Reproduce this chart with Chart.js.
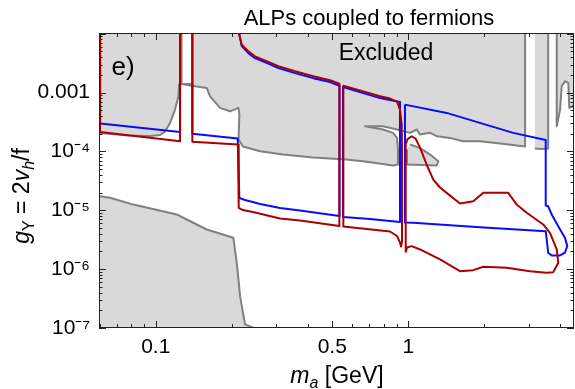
<!DOCTYPE html>
<html>
<head>
<meta charset="utf-8">
<script src="https://cdn.jsdelivr.net/npm/chart.js@4.4.1/dist/chart.umd.min.js"></script>
<style>
  html, body { margin: 0; padding: 0; background: #fff; }
</style>
</head>
<body>
<canvas id="chart" width="575" height="389"></canvas>
<script>
// axis ranges: m_a in GeV, coupling g_Y
const xRange = [0.0596, 4.53];
const yRange = [1e-7, 0.0103];

const xTickValues = [0.06, 0.07, 0.08, 0.09, 0.1, 0.2, 0.3, 0.4, 0.5, 0.6, 0.7, 0.8, 0.9, 1, 2, 3, 4];
const xTickLabels = ['0.1', '0.5', '1'];
const xTickLabelled = [0.1, 0.5, 1];
const yTickLabelled = [1e-7, 1e-6, 1e-5, 1e-4, 1e-3];
const yTickLabels = ['10⁻⁷', '10⁻⁶', '10⁻⁵', '10⁻⁴', '0.001'];

// excluded regions (gray), [m_a, g]
const excludedTopLeft = [
    [0.05, 0.05], [0.1265, 0.05], [0.1265, 1.42e-3], [0.1237, 1.37e-3], [0.1229, 8.55e-4],
    [0.1192, 5.14e-4], [0.1139, 3.03e-4], [0.1088, 2.18e-4], [0.104, 1.90e-4], [0.0949, 1.83e-4],
    [0.0777, 1.86e-4], [0.0602, 2.05e-4], [0.05, 2.05e-4]
];
const excludedTop = [
    [0.1386, 0.05], [2.90, 0.05], [2.90, 1.21e-4], [2.31, 1.36e-4], [1.92, 1.49e-4], [1.65, 1.49e-4],
    [1.46, 1.70e-4], [1.30, 1.81e-4], [1.22, 2.07e-4], [1.11, 1.94e-4], [1.08, 2.36e-4], [1.016, 2.07e-4],
    [0.902, 2.36e-4], [0.794, 2.68e-4], [0.674, 2.68e-4], [0.794, 2.36e-4], [0.870, 2.07e-4],
    [0.902, 1.70e-4], [0.910, 1.08e-4], [0.910, 6.0e-5], [0.870, 5.77e-5], [0.662, 6.83e-5],
    [0.567, 7.28e-5], [0.420, 7.87e-5], [0.319, 8.85e-5], [0.259, 1.01e-4], [0.2216, 1.21e-4],
    [0.2127, 1.59e-4], [0.2143, 4.23e-4], [0.2125, 5.5e-4], [0.1968, 4.81e-4], [0.1797, 5.5e-4],
    [0.1641, 8.65e-4], [0.1592, 1.2e-3], [0.1431, 1.28e-3], [0.1265, 1.40e-3], [0.1386, 1.40e-3]
];
const excludedBlob = [
    [1.016, 1.31e-4], [1.11, 1.15e-4], [1.22, 8.86e-5], [1.315, 6.82e-5], [1.296, 5.77e-5],
    [0.9855, 6.0e-5], [0.988, 1.08e-4]
];
const excludedStrip = [
    [3.17, 0.05], [3.58, 0.05], [3.58, 1.12e-4], [3.37, 1.10e-4], [3.17, 1.12e-4]
];
const excludedRight = [
    [3.87, 0.05], [3.87, 2.68e-4], [3.99, 5.14e-4], [4.05, 1.28e-3], [4.17, 1.56e-3], [4.30, 1.46e-3],
    [4.34, 5.5e-4], [4.48, 5.85e-4], [4.57, 7.1e-4], [5, 8e-4], [5, 0.05]
];
const excludedLow = [
    [0.05, 1.73e-5], [0.0602, 1.73e-5], [0.0659, 1.63e-5], [0.0815, 1.25e-5], [0.0994, 1.03e-5],
    [0.1211, 8.5e-6], [0.1327, 6.98e-6], [0.1592, 4.72e-6], [0.2029, 3.41e-6], [0.2093, 1.28e-6],
    [0.2157, 3.48e-7], [0.2257, 1.15e-7], [0.2434, 1.01e-7], [0.26, 9e-8], [0.26, 5e-8], [0.05, 5e-8]
];

// blue contour
const blueA = [[0.0602, 0.05], [0.0602, 2.98e-4], [0.1248, 2.15e-4], [0.1248, 0.05]];
const blueB = [
    [0.1396, 0.05], [0.1396, 1.99e-4], [0.2111, 1.66e-4], [0.2143, 1.62e-5], [0.2257, 1.50e-5],
    [0.259, 1.28e-5], [0.3105, 1.09e-5], [0.3726, 9.93e-6], [0.534, 8.0e-6], [0.534, 1.31e-3],
    [0.490, 1.51e-3], [0.4205, 1.76e-3], [0.356, 2.14e-3], [0.3058, 2.61e-3], [0.2791, 3.10e-3],
    [0.2472, 3.85e-3], [0.2326, 4.69e-3], [0.219, 6.16e-3], [0.2147, 9.29e-3], [0.2135, 0.0127],
    [0.2135, 0.05]
];
const blueC = [
    [0.5514, 1.24e-3], [0.5514, 7.69e-6], [0.7053, 7.11e-6], [0.927, 6.33e-6], [0.927, 6.90e-4],
    [0.8465, 7.46e-4], [0.7727, 8.07e-4], [0.6634, 9.80e-4], [0.5514, 1.24e-3]
];
const blueD = [
    [0.970, 6.25e-4], [1.419, 4.52e-4], [1.92, 3.06e-4], [2.604, 2.07e-4], [3.50, 1.56e-4],
    [3.50, 1.21e-5], [3.58, 1.17e-5], [3.696, 8.5e-6], [3.99, 4.72e-6], [4.17, 3.41e-6],
    [4.26, 2.46e-6], [4.17, 1.90e-6], [3.99, 1.71e-6], [3.696, 1.71e-6], [3.58, 1.90e-6],
    [3.531, 3.19e-6], [3.50, 4.42e-6], [1.92, 5.16e-6], [1.046, 6.14e-6], [0.970, 6.21e-6],
    [0.970, 6.25e-4]
];

// red contour
const redA = [[0.0602, 0.05], [0.0602, 2.15e-4], [0.1248, 1.49e-4], [0.1248, 0.05]];
const redB = [
    [0.1396, 0.05], [0.1396, 1.46e-4], [0.2118, 1.31e-4], [0.2125, 1.12e-5], [0.2135, 1.10e-5],
    [0.2216, 1.01e-5], [0.2472, 9.18e-6], [0.3105, 7.26e-6], [0.3726, 6.71e-6], [0.5334, 5.41e-6],
    [0.5334, 1.42e-3], [0.490, 1.62e-3], [0.4205, 1.89e-3], [0.356, 2.30e-3], [0.3058, 2.80e-3],
    [0.2791, 3.32e-3], [0.2472, 4.13e-3], [0.2326, 5.03e-3], [0.219, 6.53e-3], [0.2147, 9.29e-3],
    [0.2135, 0.0127], [0.2135, 0.05]
];
const redC = [
    [0.553, 1.31e-3], [0.553, 5.31e-6], [0.8465, 4.36e-6], [0.902, 3.66e-6], [0.927, 2.84e-6],
    [0.9357, 2.43e-6], [0.9443, 2.95e-6], [0.9443, 1.08e-4], [0.9417, 2.87e-4], [0.927, 5.14e-4],
    [0.902, 7.03e-4], [0.8465, 7.91e-4], [0.7727, 8.65e-4], [0.6634, 1.05e-3], [0.553, 1.31e-3]
];
const redD = [
    [0.9766, 1.92e-6], [0.9766, 1.31e-4], [0.993, 1.62e-4], [1.031, 1.81e-4], [1.068, 1.66e-4],
    [1.113, 1.16e-4], [1.186, 5.77e-5], [1.256, 3.33e-5], [1.335, 2.44e-5], [1.419, 1.98e-5],
    [1.602, 1.30e-5], [1.808, 1.43e-5], [1.982, 1.98e-5], [2.488, 1.98e-5], [2.686, 1.25e-5],
    [2.943, 9.08e-6], [3.422, 5.74e-6], [3.639, 4.15e-6], [3.87, 2.16e-6], [3.925, 1.28e-6],
    [3.75, 8.9e-7], [3.531, 8.7e-7], [3.033, 9.25e-7], [2.453, 1.06e-6], [1.982, 1.10e-6],
    [1.808, 9.62e-7], [1.602, 9.25e-7], [1.335, 1.46e-6], [1.113, 2.16e-6], [1.031, 2.46e-6],
    [0.988, 2.33e-6], [0.9766, 1.92e-6]
];

const LIGHT = '#d9d9d9';
const EDGE = '#808080';
const BLUE = '#0a0aff';
const RED = '#aa0000';
const FONT = '"Liberation Sans", Arial, sans-serif';

const toXY = pts => pts.map(([x, y]) => ({ x, y }));

function region(label, pts) {
    return {
        label, data: toXY(pts), showLine: true, fill: 'shape',
        backgroundColor: LIGHT, borderColor: EDGE, borderWidth: 2,
        pointRadius: 0, borderJoinStyle: 'round', order: 3
    };
}

function curve(label, pts, color, order) {
    return {
        label, data: toXY(pts), showLine: true, fill: false,
        borderColor: color, borderWidth: 2, pointRadius: 0,
        borderJoinStyle: 'round', order
    };
}

// draws a row of text runs: [text, size, italic, dy]
function drawRuns(ctx, runs, x, y) {
    let w = 0;
    runs.forEach(r => {
        ctx.font = (r[2] ? 'italic ' : '') + r[1] + 'px ' + FONT;
        w += ctx.measureText(r[0]).width;
    });
    let cx = x - w / 2;
    runs.forEach(r => {
        ctx.font = (r[2] ? 'italic ' : '') + r[1] + 'px ' + FONT;
        ctx.fillText(r[0], cx, y + (r[3] || 0));
        cx += ctx.measureText(r[0]).width;
    });
}

const framePlugin = {
    id: 'framePlugin',
    afterDatasetsDraw(chart) {
        const { ctx, chartArea: a } = chart;
        const sx = chart.scales.x, sy = chart.scales.y;
        ctx.save();
        ctx.strokeStyle = '#222';
        ctx.lineWidth = 1;
        ctx.beginPath();
        xTickValues.forEach(v => {
            const p = Math.round(sx.getPixelForValue(v)) + 0.5;
            const len = xTickLabelled.includes(v) ? 7 : 4;
            ctx.moveTo(p, a.bottom); ctx.lineTo(p, a.bottom - len);
            ctx.moveTo(p, a.top); ctx.lineTo(p, a.top + len);
        });
        for (let d = 1e-7; d < yRange[1]; d *= 10) {
            for (let k = 1; k <= 9; k++) {
                const v = d * k;
                if (v > yRange[1]) break;
                const p = Math.round(sy.getPixelForValue(v)) + 0.5;
                const len = k === 1 ? 7 : 3.5;
                ctx.moveTo(a.left, p); ctx.lineTo(a.left + len, p);
                ctx.moveTo(a.right, p); ctx.lineTo(a.right - len, p);
            }
        }
        ctx.stroke();
        ctx.strokeRect(a.left + 0.5, a.top + 0.5, a.right - a.left - 1, a.bottom - a.top - 1);
        ctx.restore();
    },
    afterDraw(chart) {
        const { ctx } = chart;
        ctx.save();
        ctx.fillStyle = '#000';
        ctx.textBaseline = 'alphabetic';
        ctx.textAlign = 'left';
        drawRuns(ctx, [['ALPs coupled to fermions', 22]], 369, 25);
        drawRuns(ctx, [['Excluded', 23]], 386, 60);
        drawRuns(ctx, [['e)', 26]], 123, 75);
        drawRuns(ctx, [['m', 23, true], ['a', 16, true, 5], [' [GeV]', 23]], 337, 383);
        ctx.translate(29, 196);
        ctx.rotate(-Math.PI / 2);
        drawRuns(ctx, [['g', 23, true], ['Y', 16, false, 5], [' = 2', 23], ['v', 23, true],
                       ['h', 16, true, 5], ['/f', 23]], 0, 0);
        ctx.restore();
    }
};

new Chart(document.getElementById('chart').getContext('2d'), {
    type: 'scatter',
    data: {
        datasets: [
            curve('red A', redA, RED, 1),
            curve('red B', redB, RED, 1),
            curve('red C', redC, RED, 1),
            curve('red D', redD, RED, 1),
            curve('blue A', blueA, BLUE, 2),
            curve('blue B', blueB, BLUE, 2),
            curve('blue C', blueC, BLUE, 2),
            curve('blue D', blueD, BLUE, 2),
            region('excluded top left', excludedTopLeft),
            region('excluded top', excludedTop),
            region('excluded blob', excludedBlob),
            region('excluded strip', excludedStrip),
            region('excluded right', excludedRight),
            region('excluded low', excludedLow)
        ]
    },
    options: {
        responsive: false,
        animation: false,
        events: [],
        devicePixelRatio: 1,
        layout: { padding: { top: 33, right: 1, left: 0, bottom: 0 } },
        plugins: { legend: { display: false }, tooltip: { enabled: false } },
        scales: {
            x: {
                type: 'logarithmic',
                min: xRange[0], max: xRange[1],
                afterFit: s => { s.height = 61; },
                afterBuildTicks: s => { s.ticks = xTickValues.map(v => ({ value: v })); },
                grid: { display: false, drawTicks: false },
                border: { display: false },
                ticks: {
                    autoSkip: false, maxRotation: 0, padding: 7, color: '#000',
                    font: { family: FONT, size: 21 },
                    callback: v => {
                        const i = xTickLabelled.indexOf(v);
                        return i >= 0 ? xTickLabels[i] : '';
                    }
                }
            },
            y: {
                type: 'logarithmic',
                min: yRange[0], max: yRange[1],
                afterFit: s => { s.width = 99; },
                afterBuildTicks: s => { s.ticks = yTickLabelled.map(v => ({ value: v })); },
                grid: { display: false, drawTicks: false },
                border: { display: false },
                ticks: {
                    autoSkip: false, padding: 9, color: '#000',
                    font: { family: FONT, size: 21 },
                    callback: v => {
                        const i = yTickLabelled.findIndex(t => Math.abs(t - v) / t < 1e-6);
                        return i >= 0 ? yTickLabels[i] : '';
                    }
                }
            }
        }
    },
    plugins: [framePlugin]
});
</script>
</body>
</html>
